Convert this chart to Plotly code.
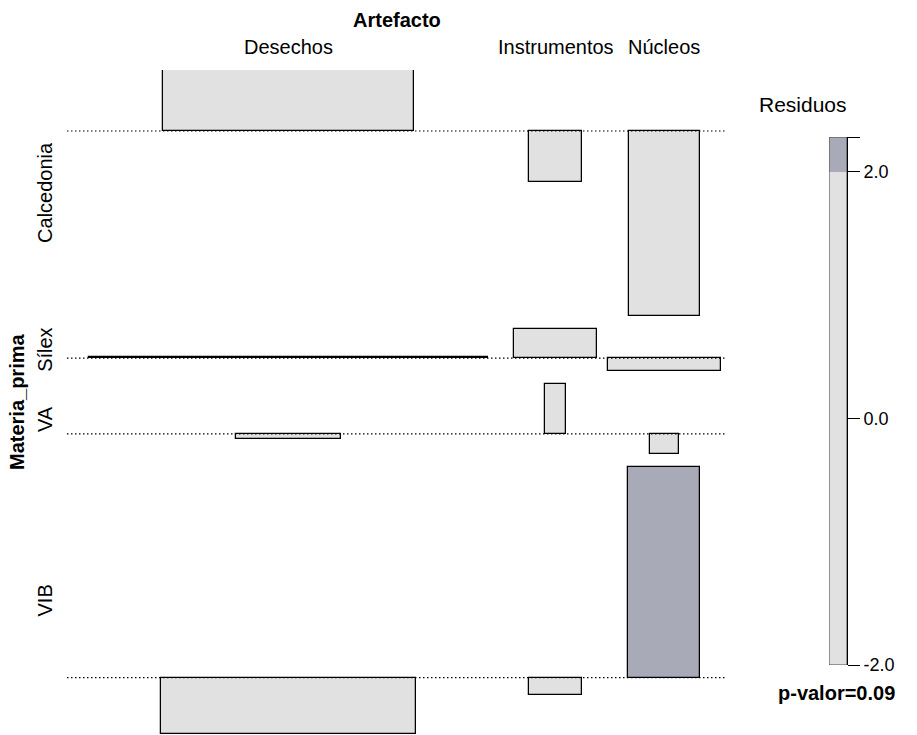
import numpy as np
import plotly.graph_objects as go

# ---- data -------------------------------------------------------------
materia = ["Calcedonia", "Sílex", "VA", "VIB"]
artefacto = ["Desechos", "Instrumentos", "Núcleos"]

# Pearson residuals per raw material (Desechos, Instrumentos, Núcleos)
res_calcedonia = [0.66, -0.55, -2.00]
res_silex = [0.01, 0.32, -0.14]
res_va = [-0.06, 0.54, -0.22]
res_vib = [-0.61, -0.19, 2.28]

# expected counts under independence (bar width ~ sqrt(expected))
exp_calcedonia = [50.1, 2.2, 4.0]
exp_silex = [125.6, 5.4, 10.1]
exp_va = [8.7, 0.35, 0.66]
exp_vib = [51.7, 2.2, 4.1]

p_valor = 0.09
legend_ticks = [-2.0, 0.0, 2.0]
legend_ticktext = ["-2.0", "0.0", "2.0"]

# ---- styling ----------------------------------------------------------
W_PX, H_PX = 917, 735
FONT = "Liberation Sans, Arial, sans-serif"
FS = 20
LIGHT = "#E1E1E1"
DARK_POS = "#A8AAB7"
DARK_NEG = "#B8A9AA"
PANEL_L, PANEL_R, PANEL_T, PANEL_B = 67, 727, 70, 734
ROW_GAP_PX = 12.8
XSCALE = 0.9

R = np.array([res_calcedonia, res_silex, res_va, res_vib])
E = np.array([exp_calcedonia, exp_silex, exp_va, exp_vib])
Wd = np.sqrt(E)

# columns: box width = widest bar / XSCALE, boxes side by side
col_w = Wd.max(axis=0) / XSCALE
col_left = np.concatenate([[0], np.cumsum(col_w)[:-1]])
col_c = col_left + col_w / 2
total_w = col_w.sum()

# rows: stacked from the top, each spanning its residual range
rmax = R.max(axis=1)
rmin = R.min(axis=1)
rh = rmax - rmin
n_rows = len(materia)
scale = ((PANEL_B - PANEL_T) - (n_rows - 1) * ROW_GAP_PX) / rh.sum()
gap_u = ROW_GAP_PX / scale
tops, bases, bottoms = [], [], []
t = 0.0
for i in range(n_rows):
    tops.append(t)
    bases.append(t - rmax[i])
    bottoms.append(t - rh[i])
    t = t - rh[i] - gap_u
y_low = bottoms[-1]


def fill_for(r):
    if r > 2:
        return DARK_POS
    if r < -2:
        return DARK_NEG
    return LIGHT


bx, by, bb, bw, bc = [], [], [], [], []
for i in range(n_rows):
    for j in range(len(artefacto)):
        bx.append(col_c[j])
        by.append(R[i, j])
        bb.append(bases[i])
        bw.append(Wd[i, j])
        bc.append(fill_for(R[i, j]))

fig = go.Figure()

# dotted baselines across every row
for i in range(n_rows):
    fig.add_trace(go.Scatter(
        x=[0, total_w], y=[bases[i], bases[i]], mode="lines",
        line=dict(color="black", width=1.2, dash="1.5px,2.5px"),
        hoverinfo="skip", showlegend=False))

# association bars: height = residual, width = sqrt(expected)
fig.add_trace(go.Bar(
    x=bx, y=by, base=bb, width=bw,
    marker=dict(color=bc, line=dict(color="black", width=1.25)),
    showlegend=False, hoverinfo="skip"))

# residual shading legend
lmin, lmax = R.min(), R.max()
fig.add_trace(go.Bar(
    x=[0.5, 0.5], base=[lmin, 2.0], y=[2.0 - lmin, lmax - 2.0], width=1,
    marker=dict(color=[LIGHT, DARK_POS], line=dict(width=0)),
    xaxis="x2", yaxis="y2", showlegend=False, hoverinfo="skip"))
fig.add_trace(go.Scatter(
    x=[0, 0, 1, 1, 0], y=[lmin, lmax, lmax, lmin, lmin], mode="lines",
    line=dict(color="#444444", width=1),
    xaxis="x2", yaxis="y2", showlegend=False, hoverinfo="skip"))

fig.update_layout(
    width=W_PX, height=H_PX,
    margin=dict(l=0, r=0, t=0, b=0, autoexpand=False),
    paper_bgcolor="white", plot_bgcolor="white",
    barmode="overlay", bargap=0,
    font=dict(family=FONT, size=FS, color="black"),
    xaxis=dict(domain=[PANEL_L / W_PX, PANEL_R / W_PX], range=[0, total_w],
               visible=False, fixedrange=True),
    yaxis=dict(domain=[1 - PANEL_B / H_PX, 1 - PANEL_T / H_PX],
               range=[y_low, 0], visible=False, fixedrange=True),
    xaxis2=dict(domain=[829 / W_PX, 847 / W_PX], range=[0, 1],
                visible=False, anchor="y2"),
    yaxis2=dict(domain=[1 - 665 / H_PX, 1 - 137 / H_PX], range=[lmin, lmax],
                anchor="x2", side="right", showline=True, linecolor="black",
                linewidth=1, ticks="outside", ticklen=12, tickcolor="black",
                tickvals=legend_ticks + [lmax], ticktext=legend_ticktext + [""],
                showgrid=False, zeroline=False, automargin=False,
                tickfont=dict(family=FONT, size=18)),
)

ann = []
# variable names
ann.append(dict(text="<b>Artefacto</b>", x=(PANEL_L + PANEL_R) / 2 / W_PX,
                y=1 - 20 / H_PX, xref="paper", yref="paper",
                showarrow=False, xanchor="center", yanchor="middle"))
ann.append(dict(text="<b>Materia_prima</b>", x=17 / W_PX,
                y=1 - (PANEL_T + PANEL_B) / 2 / H_PX, xref="paper", yref="paper",
                showarrow=False, textangle=-90, xanchor="center", yanchor="middle"))
# column labels
for j, name in enumerate(artefacto):
    ann.append(dict(text=name, x=col_c[j], y=1 - 47 / H_PX, xref="x", yref="paper",
                    showarrow=False, xanchor="center", yanchor="middle"))
# row labels
for i, name in enumerate(materia):
    ann.append(dict(text=name, x=45 / W_PX, y=(tops[i] + bottoms[i]) / 2,
                    xref="paper", yref="y", showarrow=False, textangle=-90,
                    xanchor="center", yanchor="middle"))
# legend title and p-value
ann.append(dict(text="Residuos", x=803 / W_PX, y=1 - 104 / H_PX,
                xref="paper", yref="paper", showarrow=False,
                xanchor="center", yanchor="middle", font=dict(size=21)))
ann.append(dict(text=f"<b>p-valor={p_valor:.2f}</b>", x=836 / W_PX, y=1 - 693 / H_PX,
                xref="paper", yref="paper", showarrow=False,
                xanchor="center", yanchor="middle"))
fig.update_layout(annotations=ann)

fig.write_html("out.html")
